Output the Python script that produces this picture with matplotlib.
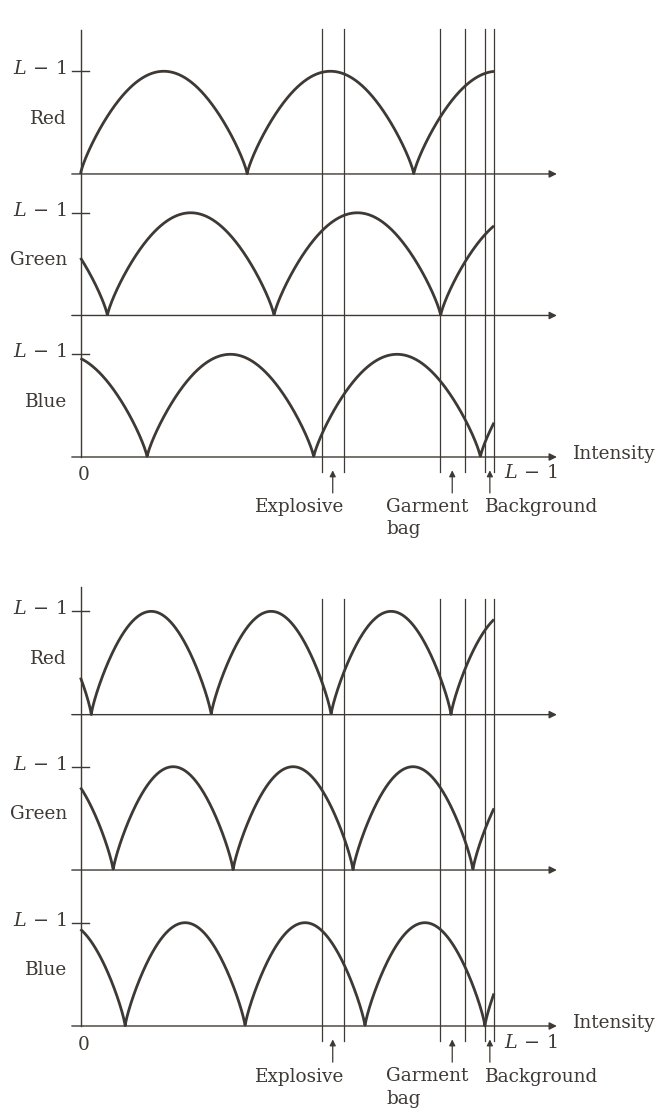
import numpy as np
import matplotlib
matplotlib.use("Agg")
import matplotlib.pyplot as plt

# ---------------- data (intensity axis normalised: 0 .. 1 = L-1) ----------------
channels = ["Red", "Green", "Blue"]
# first zero crossing and half period (zero-to-zero distance) of each curve
top_first_zero = [0.000, 0.065, 0.161]
top_half_period = [0.403, 0.403, 0.403]
bottom_first_zero = [0.026, 0.079, 0.108]
bottom_half_period = [0.290, 0.290, 0.290]
# intensity bands (vertical lines) and arrow marks
band_edges = [0.585, 0.638, 0.870, 0.931, 0.979, 1.000]
arrow_positions = [0.610, 0.899, 0.990]
arrow_labels = ["Explosive", "Garment\nbag", "Background"]
level_label = r"$L\,-\,1$"
axis_label = "Intensity"

# ---------------- style ----------------
INK = "#3e3934"
ARC_SHAPE = 0.8  # fullness of the arcs
plt.rcParams["font.family"] = ["DejaVu Serif"]
plt.rcParams["mathtext.fontset"] = "dejavuserif"
FS = 13.3
FS_L = 13.8
W, H = 667, 1116
fig = plt.figure(figsize=(W / 100, H / 100), dpi=100)
fig.patch.set_facecolor("white")

X0_PX, X1_PX = 80.5, 494.0


def make_panel(blue_base_px, unit_px, offsets, first_zero, half_period,
               axis_top, line_top):
    red_top = offsets[0] + 1
    ax = fig.add_axes([X0_PX / W, 1 - blue_base_px / H,
                       (X1_PX - X0_PX) / W, red_top * unit_px / H])
    ax.set_xlim(0, 1)
    ax.set_ylim(0, red_top)
    ax.axis("off")

    x = np.linspace(0, 1, 1500)
    for name, off, z0, hp in zip(channels, offsets, first_zero, half_period):
        y = np.abs(np.sin(np.pi * (x - z0) / hp)) ** ARC_SHAPE
        ax.plot(x, off + y, color=INK, lw=2.0, clip_on=False,
                solid_capstyle="butt", zorder=3)
        # baseline with arrow
        ax.annotate("", xy=(1.152, off), xytext=(-0.021, off),
                    arrowprops=dict(arrowstyle="-|>", color=INK, lw=1.0,
                                    mutation_scale=11, shrinkA=0, shrinkB=0),
                    annotation_clip=False)
        # L-1 tick
        ax.plot([-0.02, 0.02], [off + 1, off + 1], color=INK, lw=1.0,
                clip_on=False)
        ax.text(-0.033, off + 1.02, level_label, ha="right", va="center",
                fontsize=FS_L, color=INK)
        ax.text(-0.033, off + 0.54, name, ha="right", va="center",
                fontsize=FS, color=INK)

    # vertical y-axis
    ax.plot([0, 0], [0, axis_top], color=INK, lw=1.0, clip_on=False)
    # band lines
    for b in band_edges:
        ax.plot([b, b], [-0.146, line_top], color=INK, lw=0.9, clip_on=False)
    # arrows and labels
    for a in arrow_positions:
        ax.annotate("", xy=(a, -0.13), xytext=(a, -0.35),
                    arrowprops=dict(arrowstyle="-|>", color=INK, lw=0.9,
                                    mutation_scale=9, shrinkA=0, shrinkB=0),
                    annotation_clip=False)
    ax.text(0.53, -0.49, arrow_labels[0], ha="center", va="center",
            fontsize=FS, color=INK)
    ax.text(0.739, -0.395, arrow_labels[1], ha="left", va="top",
            fontsize=FS, color=INK, linespacing=1.35)
    ax.text(0.978, -0.49, arrow_labels[2], ha="left", va="center",
            fontsize=FS, color=INK)
    ax.text(0.008, -0.18, "0", ha="center", va="center", fontsize=FS,
            color=INK)
    ax.text(1.024, -0.16, level_label, ha="left", va="center",
            fontsize=FS_L, color=INK)
    ax.text(1.19, 0.03, axis_label, ha="left", va="center", fontsize=FS,
            color=INK)
    return ax


make_panel(457.0, 102.7, [2.756, 1.378, 0.0], top_first_zero,
           top_half_period, 4.158, 4.168)
make_panel(1026.0, 103.3, [3.014, 1.510, 0.0], bottom_first_zero,
           bottom_half_period, 4.25, 4.13)

fig.savefig("out.png", dpi=100, facecolor="white")
